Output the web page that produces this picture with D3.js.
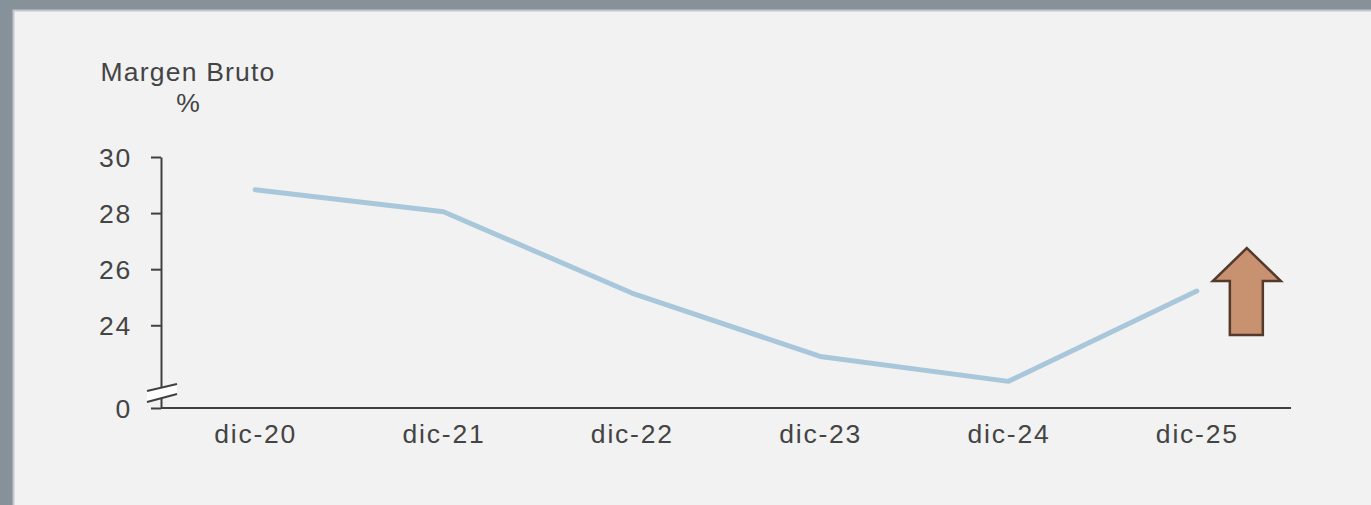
<!DOCTYPE html>
<html>
<head>
<meta charset="utf-8">
<script src="https://cdn.jsdelivr.net/npm/d3@7"></script>
<style>
  body { margin: 0; background: #87919a; }
  text { font-family: "Liberation Sans", Arial, sans-serif; fill: #444444; }
</style>
</head>
<body>
<div class="visContainer"></div>
<script>
// Chart data.
const categories = ['dic-20', 'dic-21', 'dic-22', 'dic-23', 'dic-24', 'dic-25'];
const margenBruto = [28.83, 28.05, 25.15, 22.89, 22.0, 25.22];
const yTicks = [24, 26, 28, 30];
const yBreakValue = 0;   // label shown under the axis break
const titleLines = ['Margen Bruto', '%'];

// SVG constants.
const width = 1371;
const height = 505;
const yMin = 21.05;  // value that sits on the x axis (after the break)
const fontSize = '26.5px';

const svg = d3.select('.visContainer')
              .append('svg')
              .attr('width', width)
              .attr('height', height)
              .style('display', 'block');

// Frame + panel.
svg.append('rect')
   .attr('width', width)
   .attr('height', height)
   .attr('fill', '#87919a');
svg.append('rect')
   .attr('x', 13.5)
   .attr('y', 10.5)
   .attr('width', width)
   .attr('height', height)
   .attr('fill', '#f2f2f2')
   .attr('stroke', '#c3c8cc')
   .attr('stroke-width', 2);

// Scales.
const x = d3.scalePoint()
            .domain(categories)
            .range([161, 1291])
            .padding(0.5);
const y = d3.scaleLinear()
            .domain([yMin, 30])
            .range([408, 157]);

// Title.
svg.append('text')
   .attr('x', 188)
   .attr('y', 81)
   .attr('text-anchor', 'middle')
   .attr('font-size', fontSize)
   .attr('letter-spacing', '1.2px')
   .text(titleLines[0]);
svg.append('text')
   .attr('x', 188)
   .attr('y', 112)
   .attr('text-anchor', 'middle')
   .attr('font-size', fontSize)
   .text(titleLines[1]);

// X axis.
const xAxis = svg.append('g')
   .attr('transform', `translate(0, ${y(yMin)})`)
   .call(d3.axisBottom(x).tickSize(0).tickSizeOuter(0).tickPadding(16));
xAxis.select('.domain').attr('d', `M161,0H1291`);

// Y axis.
const yAxis = svg.append('g')
   .attr('transform', 'translate(161, 0)')
   .call(d3.axisLeft(y)
           .tickValues([yMin].concat(yTicks))
           .tickFormat(d => d === yMin ? yBreakValue : d)
           .tickSize(10)
           .tickSizeOuter(0)
           .tickPadding(19));

[xAxis, yAxis].forEach(g => {
    g.selectAll('.domain, .tick line')
     .attr('stroke', '#404040')
     .attr('stroke-width', 2);
    g.selectAll('text')
     .attr('font-size', fontSize)
     .attr('letter-spacing', '1.8px')
     .attr('fill', '#444444')
     .style('font-family', '"Liberation Sans", Arial, sans-serif');
});
yAxis.selectAll('.tick text').attr('dy', '0.36em');

// Axis break marks.
const bx = 161, by = y(yMin) - 15;
const brk = svg.append('g').attr('transform', `translate(${bx}, ${by})`);
brk.append('polygon')
   .attr('points', '-14,-2 16,-9 16,1 -14,9')
   .attr('fill', '#ffffff');
brk.append('line')
   .attr('x1', -14).attr('y1', -2).attr('x2', 16).attr('y2', -9)
   .attr('stroke', '#404040').attr('stroke-width', 2);
brk.append('line')
   .attr('x1', -14).attr('y1', 9).attr('x2', 16).attr('y2', 1)
   .attr('stroke', '#404040').attr('stroke-width', 2);

// Line.
const line = d3.line()
               .x((d, i) => x(categories[i]))
               .y(d => y(d));
svg.append('path')
   .datum(margenBruto)
   .attr('d', line)
   .attr('fill', 'none')
   .attr('stroke', '#a8c7da')
   .attr('stroke-width', 5)
   .attr('stroke-linecap', 'round')
   .attr('stroke-linejoin', 'round');

// Up arrow next to the last point.
const last = margenBruto.length - 1;
const ax = x(categories[last]) + 50;
const ay = y(margenBruto[last]);
svg.append('path')
   .attr('transform', `translate(${ax}, ${ay})`)
   .attr('d', 'M0,-43 L34,-10 L16,-10 L16,44 L-17,44 L-17,-10 L-34,-10 Z')
   .attr('fill', '#c8916f')
   .attr('stroke', '#543a2b')
   .attr('stroke-width', 2.5)
   .attr('stroke-linejoin', 'miter');
</script>
</body>
</html>
